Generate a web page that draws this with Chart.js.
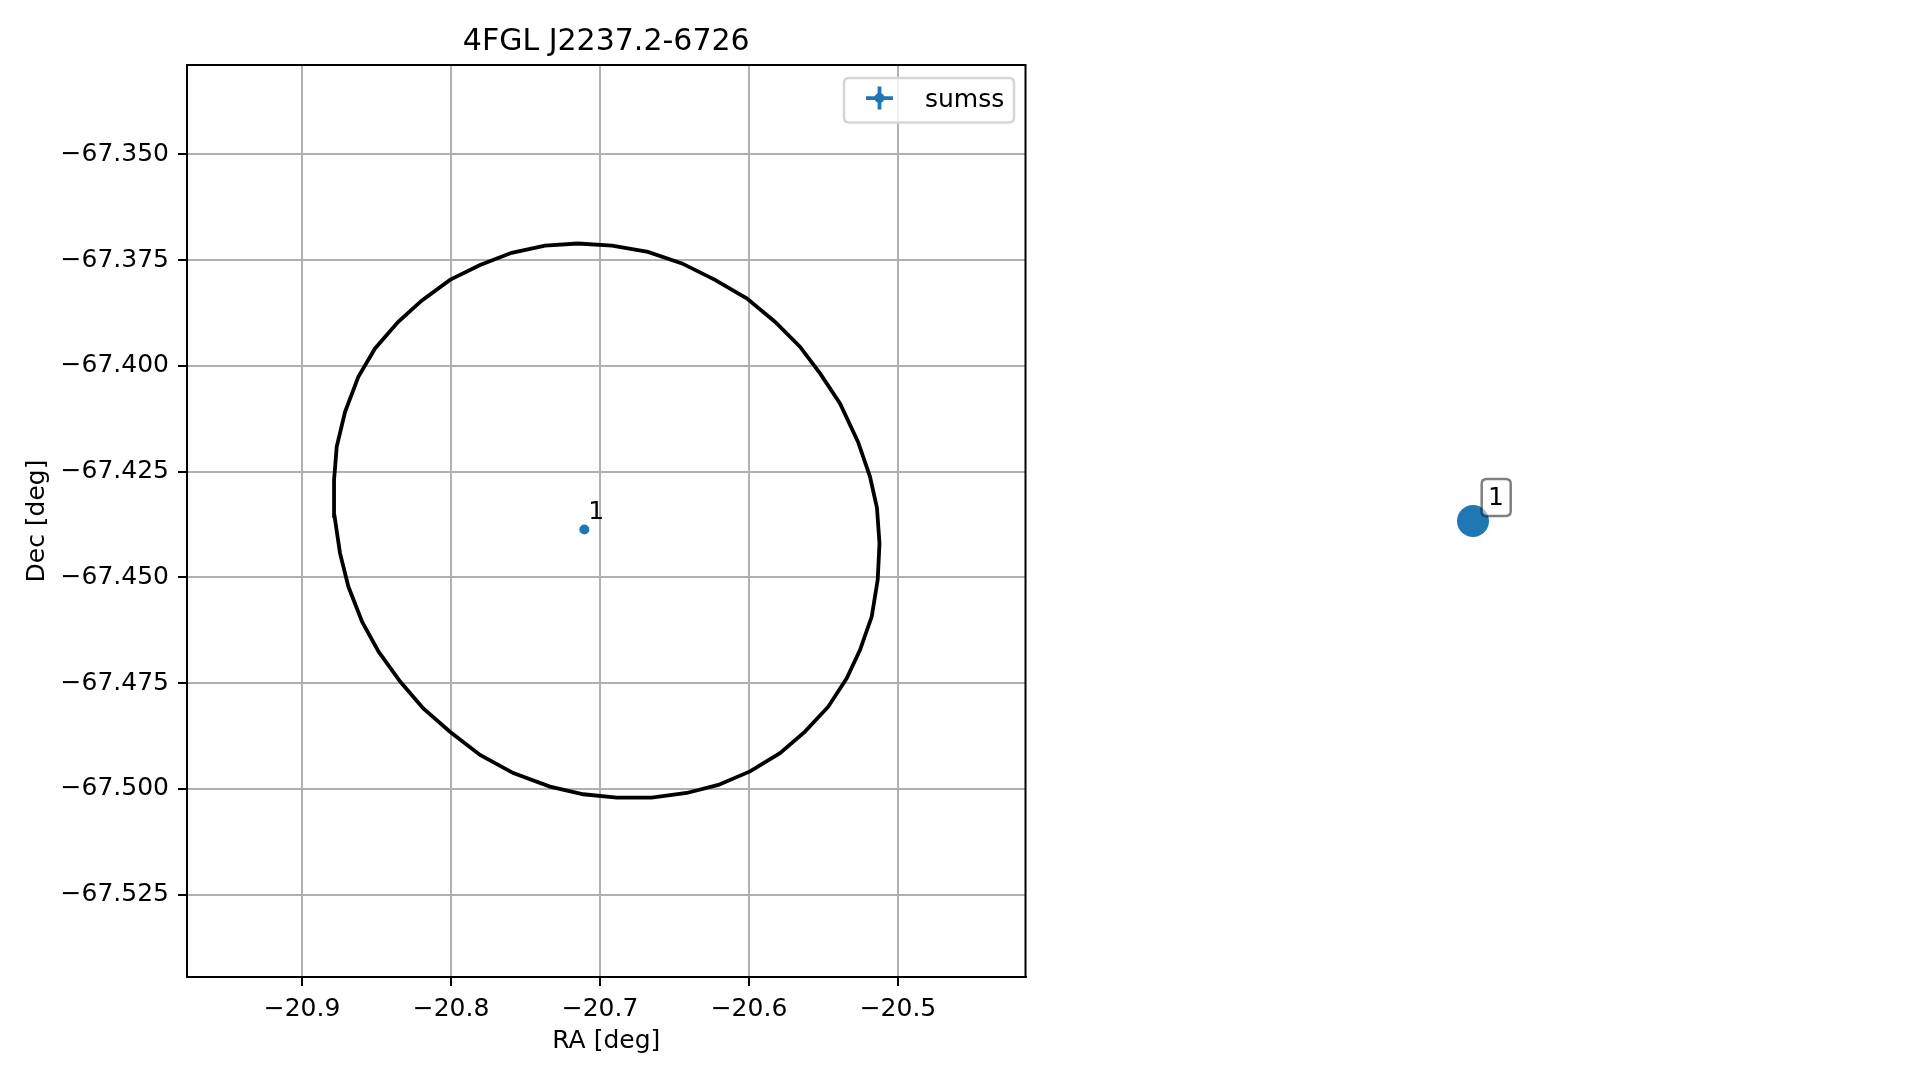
<!DOCTYPE html>
<html>
<head>
<meta charset="utf-8">
<title>4FGL J2237.2-6726</title>
<script src="https://cdn.jsdelivr.net/npm/chart.js@4.4.0/dist/chart.umd.min.js"></script>
<style>
  html, body { margin: 0; padding: 0; background: #fff; }
  #wrap { position: relative; width: 1919px; height: 1080px; }
  #main { position: absolute; left: 0; top: 0; }
  #side { position: absolute; left: 1054px; top: 65px; }
</style>
</head>
<body>
<div id="wrap">
  <canvas id="main" width="1919" height="1080"></canvas>
  <canvas id="side" width="838" height="912"></canvas>
</div>
<script>
// --- DATOS ---
const chartTitle = '4FGL J2237.2-6726';
const raTicks = [-20.9, -20.8, -20.7, -20.6, -20.5];
const decTicks = [-67.525, -67.5, -67.475, -67.45, -67.425, -67.4, -67.375, -67.35];
const raRange = [-20.9772, -20.4144];
const decRange = [-67.5445, -67.3289];

// contorno de la elipse de error (vertices)
const ellipseRA = [
  -20.7148, -20.6919, -20.6678, -20.6450, -20.6228, -20.6013, -20.5826, -20.5658,
  -20.5523, -20.5389, -20.5268, -20.5188, -20.5141, -20.5124, -20.5136, -20.5176,
  -20.5255, -20.5344, -20.5468, -20.5624, -20.5792, -20.5993, -20.6206, -20.6418,
  -20.6653, -20.6888, -20.7112, -20.7336, -20.7582, -20.7805, -20.8007, -20.8186,
  -20.8340, -20.8486, -20.8597, -20.8689, -20.8745, -20.8782, -20.8785, -20.8767,
  -20.8711, -20.8622, -20.8510, -20.8354, -20.8197, -20.8007, -20.7805, -20.7593,
  -20.7369
];
const ellipseDec = [
  -67.3711, -67.3716, -67.3731, -67.3758, -67.3797, -67.3841, -67.3896, -67.3955,
  -67.4018, -67.4089, -67.4180, -67.4262, -67.4336, -67.4420, -67.4506, -67.4593,
  -67.4672, -67.4739, -67.4806, -67.4865, -67.4916, -67.4959, -67.4991, -67.5010,
  -67.5021, -67.5021, -67.5013, -67.4995, -67.4963, -67.4920, -67.4865, -67.4810,
  -67.4747, -67.4676, -67.4605, -67.4522, -67.4443, -67.4355, -67.4270, -67.4191,
  -67.4109, -67.4026, -67.3959, -67.3896, -67.3846, -67.3797, -67.3762, -67.3733,
  -67.3716
];

// fuentes sumss
const srcRA = [-20.7105];
const srcDec = [-67.4387];
const srcLabels = ['1'];
const srcCatalog = 'sumss';

// --- ESTILO ---
const FONT = "'DejaVu Sans', sans-serif";
const BLUE = '#1f77b4';
const minus = s => s.replace('-', '\u2212');

function roundRect(ctx, x, y, w, h, r) {
  ctx.beginPath();
  ctx.moveTo(x + r, y);
  ctx.lineTo(x + w - r, y);
  ctx.quadraticCurveTo(x + w, y, x + w, y + r);
  ctx.lineTo(x + w, y + h - r);
  ctx.quadraticCurveTo(x + w, y + h, x + w - r, y + h);
  ctx.lineTo(x + r, y + h);
  ctx.quadraticCurveTo(x, y + h, x, y + h - r);
  ctx.lineTo(x, y + r);
  ctx.quadraticCurveTo(x, y, x + r, y);
  ctx.closePath();
}

// marco completo, titulo, etiquetas y leyenda
const decorPlugin = {
  id: 'decor',
  afterDatasetsDraw(chart) {
    const { ctx, chartArea: a, scales } = chart;
    ctx.save();
    ctx.strokeStyle = '#000';
    ctx.lineWidth = 2;
    ctx.strokeRect(a.left, a.top, a.right - a.left, a.bottom - a.top);

    ctx.fillStyle = '#000';
    ctx.font = '25px ' + FONT;
    ctx.textAlign = 'left';
    ctx.textBaseline = 'alphabetic';
    srcLabels.forEach((t, i) => {
      const px = scales.x.getPixelForValue(srcRA[i]);
      const py = scales.y.getPixelForValue(srcDec[i]);
      ctx.fillText(t, px + 4, py - 10);
    });

    ctx.font = '30px ' + FONT;
    ctx.textAlign = 'center';
    ctx.fillText(chartTitle, (a.left + a.right) / 2, 50);
    ctx.restore();
  },
  afterDraw(chart) {
    const { ctx, chartArea: a } = chart;
    const w = 170, h = 44.5;
    const x0 = a.right - 11.5 - w, y0 = a.top + 13;
    ctx.save();
    roundRect(ctx, x0, y0, w, h, 5);
    ctx.fillStyle = 'rgba(255,255,255,0.8)';
    ctx.fill();
    ctx.strokeStyle = '#d6d6d6';
    ctx.lineWidth = 2.5;
    ctx.stroke();

    const cx = x0 + 35.5, cy = y0 + 20;
    ctx.strokeStyle = BLUE;
    ctx.lineWidth = 3.75;
    ctx.beginPath();
    ctx.moveTo(cx - 13.5, cy); ctx.lineTo(cx + 13.5, cy);
    ctx.moveTo(cx, cy - 11.5); ctx.lineTo(cx, cy + 11.5);
    ctx.stroke();
    ctx.fillStyle = BLUE;
    ctx.beginPath(); ctx.arc(cx, cy, 5, 0, 2 * Math.PI); ctx.fill();

    ctx.fillStyle = '#000';
    ctx.font = '25px ' + FONT;
    ctx.textAlign = 'left';
    ctx.textBaseline = 'alphabetic';
    ctx.fillText(srcCatalog, x0 + 81, y0 + 28.5);
    ctx.restore();
  }
};

const ellipsePoints = ellipseRA.map((ra, i) => ({ x: ra, y: ellipseDec[i] }));
ellipsePoints.push(ellipsePoints[0]);
const srcPoints = srcRA.map((ra, i) => ({ x: ra, y: srcDec[i] }));

const axisCommon = {
  type: 'linear',
  ticks: { color: '#000', font: { family: FONT, size: 25 }, padding: 9, autoSkip: false, maxRotation: 0 },
  grid: { color: '#b0b0b0', lineWidth: 2, tickColor: '#000', tickLength: 9, tickWidth: 2 },
  border: { color: '#000', width: 2 }
};

new Chart(document.getElementById('main'), {
  type: 'scatter',
  data: {
    datasets: [
      {
        label: 'ellipse', data: ellipsePoints, showLine: true, borderColor: '#000',
        borderWidth: 3.8, pointRadius: 0, fill: false, tension: 0
      },
      {
        label: srcCatalog, data: srcPoints, pointRadius: 5, pointHoverRadius: 5,
        backgroundColor: BLUE, borderWidth: 0
      }
    ]
  },
  options: {
    responsive: false, animation: false,
    layout: { padding: { left: 0, top: 65, right: 893.5, bottom: 0 } },
    plugins: { legend: { display: false }, tooltip: { enabled: false }, title: { display: false } },
    scales: {
      x: {
        ...axisCommon, min: raRange[0], max: raRange[1],
        afterBuildTicks: s => { s.ticks = raTicks.map(v => ({ value: v })); },
        afterFit: s => { s.height = 103; },
        ticks: { ...axisCommon.ticks, padding: 8, callback: v => minus(v.toFixed(1)) },
        title: { display: true, text: 'RA [deg]', color: '#000', font: { family: FONT, size: 25 }, padding: { bottom: 23.5 } }
      },
      y: {
        ...axisCommon, min: decRange[0], max: decRange[1],
        afterBuildTicks: s => { s.ticks = decTicks.map(v => ({ value: v })); },
        afterFit: s => { s.width = 187; },
        ticks: { ...axisCommon.ticks, callback: v => minus(v.toFixed(3)) },
        title: { display: true, text: 'Dec [deg]', color: '#000', font: { family: FONT, size: 25 }, padding: { top: 22 } }
      }
    }
  },
  plugins: [decorPlugin]
});

// --- PANEL DERECHO (sin ejes) ---
const sideLabelPlugin = {
  id: 'sideLabel',
  afterDraw(chart) {
    const { ctx, scales } = chart;
    ctx.save();
    srcLabels.forEach((t, i) => {
      const px = scales.x.getPixelForValue(srcRA[i]);
      const py = scales.y.getPixelForValue(srcDec[i]);
      const tx = px + 15, ty = py - 16;
      roundRect(ctx, tx - 6.3, ty - 26, 29, 37, 5);
      ctx.fillStyle = 'rgba(255,255,255,0.5)';
      ctx.fill();
      ctx.strokeStyle = 'rgba(0,0,0,0.5)';
      ctx.lineWidth = 2.5;
      ctx.stroke();
      ctx.fillStyle = '#000';
      ctx.font = '25px ' + FONT;
      ctx.textAlign = 'left';
      ctx.textBaseline = 'alphabetic';
      ctx.fillText(t, tx, ty);
    });
    ctx.restore();
  }
};

new Chart(document.getElementById('side'), {
  type: 'scatter',
  data: {
    datasets: [{ data: srcPoints, pointRadius: 16, pointHoverRadius: 16, backgroundColor: BLUE, borderWidth: 0 }]
  },
  options: {
    responsive: false, animation: false,
    layout: { padding: 0 },
    plugins: { legend: { display: false }, tooltip: { enabled: false } },
    scales: {
      x: { display: false, min: srcRA[0] - 0.05, max: srcRA[0] + 0.05 },
      y: { display: false, min: srcDec[0] - 0.05, max: srcDec[0] + 0.05 }
    }
  },
  plugins: [sideLabelPlugin]
});
</script>
</body>
</html>
